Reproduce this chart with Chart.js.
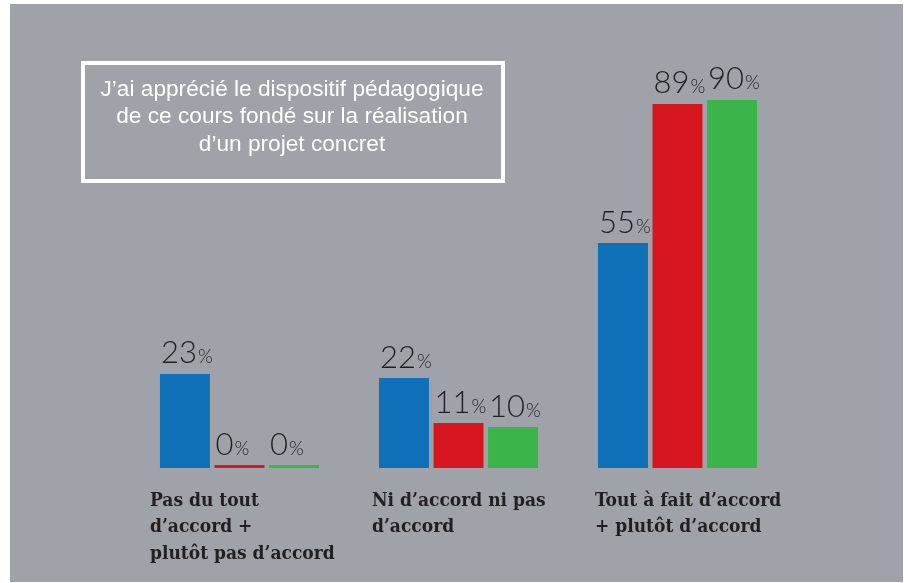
<!DOCTYPE html>
<html lang="fr">
<head>
<meta charset="utf-8">
<script src="https://cdn.jsdelivr.net/npm/chart.js@4.4.1/dist/chart.umd.min.js"></script>
<style>
  html, body { margin: 0; padding: 0; background: #fff; }
  canvas { display: block; }
</style>
</head>
<body>
<canvas id="chart" width="908" height="583"></canvas>
<script>
// categories (multi-line labels under each group)
const categories = [
  ['Pas du tout', 'd\u2019accord +', 'plutôt pas d\u2019accord'],
  ['Ni d\u2019accord ni pas', 'd\u2019accord'],
  ['Tout à fait d\u2019accord', '+ plutôt d\u2019accord']
];
// three series, one per colour (no legend in the original)
const blueValues = [23, 22, 55];
const redValues = [0, 11, 89];
const greenValues = [0, 10, 90];
const titleLines = [
  'J\u2019ai apprécié le dispositif pédagogique',
  'de ce cours fondé sur la réalisation',
  'd\u2019un projet concret'
];

const BG = '#a0a2a9';
const INK = '#231f20';

// gray panel + framed title
const panelPlugin = {
  id: 'panel',
  beforeDraw(chart) {
    const ctx = chart.ctx;
    ctx.save();
    ctx.fillStyle = '#fff';
    ctx.fillRect(0, 0, chart.width, chart.height);
    ctx.fillStyle = BG;
    ctx.fillRect(10, 4, 893, 578);
    // title frame
    ctx.strokeStyle = '#fff';
    ctx.lineWidth = 4;
    ctx.strokeRect(83, 63, 420, 118);
    ctx.fillStyle = '#fff';
    ctx.font = '22px "Liberation Sans", Arial, sans-serif';
    ctx.textAlign = 'center';
    ctx.textBaseline = 'alphabetic';
    // squeeze to the condensed look of the original
    const w = ctx.measureText(titleLines[0]).width;
    const sx = 383 / w;
    ctx.translate(292, 0);
    ctx.scale(sx, 1);
    titleLines.forEach((line, i) => ctx.fillText(line, 0, 95.5 + i * 27.5));
    ctx.restore();
  }
};

// value labels + category labels
const labelPlugin = {
  id: 'labels',
  afterDatasetsDraw(chart) {
    const ctx = chart.ctx;
    ctx.save();
    ctx.fillStyle = INK;
    ctx.textBaseline = 'alphabetic';
    ctx.textAlign = 'left';
    chart.data.datasets.forEach((ds, di) => {
      chart.getDatasetMeta(di).data.forEach((bar, i) => {
        const left = bar.x - bar.width / 2 + 1;
        const y = bar.y - 10.5;
        const num = String(ds.data[i]);
        ctx.font = '300 31px Lato, sans-serif';
        ctx.fillText(num, left, y);
        const nw = ctx.measureText(num).width;
        ctx.font = '300 19px Lato, sans-serif';
        ctx.fillText('%', left + nw + 1, y);
      });
    });
    // category labels, left aligned near the first bar of each group
    const nudge = [-10, -7, -3];
    const first = chart.getDatasetMeta(0).data;
    ctx.font = 'bold 19px "DejaVu Serif Condensed", "DejaVu Serif", serif';
    categories.forEach((lines, i) => {
      const x = first[i].x - first[i].width / 2 + nudge[i];
      lines.forEach((line, j) => ctx.fillText(line, x, 505.5 + j * 26.5));
    });
    ctx.restore();
  }
};

const ctx = document.getElementById('chart').getContext('2d');
new Chart(ctx, {
  type: 'bar',
  data: {
    labels: categories,
    datasets: [
      { data: blueValues, backgroundColor: '#1071b9' },
      { data: redValues, backgroundColor: '#d7161f' },
      { data: greenValues, backgroundColor: '#3bb54a' }
    ]
  },
  options: {
    responsive: false,
    animation: false,
    events: [],
    layout: { padding: { left: 130, right: 121, top: 59, bottom: 115 } },
    datasets: {
      bar: {
        categoryPercentage: 0.747,
        barPercentage: 0.917,
        borderWidth: 0,
        minBarLength: 3
      }
    },
    plugins: {
      legend: { display: false },
      tooltip: { enabled: false },
      title: { display: false }
    },
    scales: {
      x: { display: false },
      y: { display: false, min: 0, max: 100 }
    }
  },
  plugins: [panelPlugin, labelPlugin]
});
</script>
</body>
</html>
